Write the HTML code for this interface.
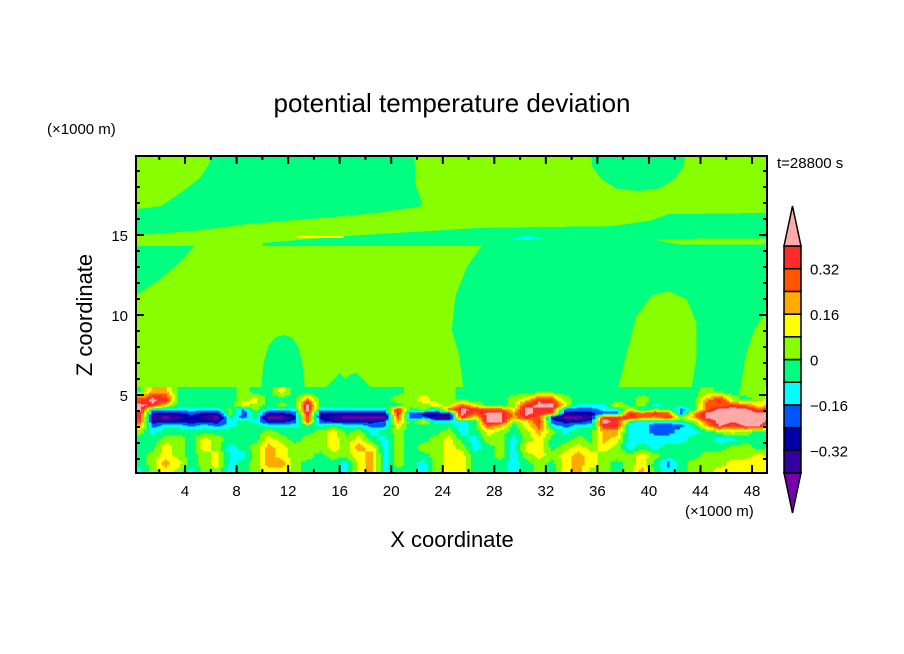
<!DOCTYPE html>
<html><head><meta charset="utf-8"><style>
html,body{margin:0;padding:0;background:#fff;}
svg{display:block;font-family:"Liberation Sans",sans-serif;}
</style></head><body>
<svg id="chart" width="904" height="654" viewBox="0 0 904 654" xmlns="http://www.w3.org/2000/svg">
<rect width="904" height="654" fill="#fff"/>
<defs><clipPath id="plotclip"><rect x="136" y="156" width="631" height="317"/></clipPath></defs>
<g id="field" clip-path="url(#plotclip)" shape-rendering="crispEdges"></g>
<g id="axes"></g>
<text x="452" y="112" font-size="26" text-anchor="middle">potential temperature deviation</text>
<text x="47" y="134" font-size="15">(×1000 m)</text>
<text x="685" y="516" font-size="15">(×1000 m)</text>
<text x="777" y="168" font-size="15">t=28800 s</text>
<text x="452" y="547" font-size="22" text-anchor="middle">X coordinate</text>
<text transform="translate(92,315) rotate(-90)" font-size="22" text-anchor="middle">Z coordinate</text>
<g id="colorbar"></g>
</svg>
<script>
// ---- data ----
const levels = [-0.4,-0.32,-0.24,-0.16,-0.08,0,0.08,0.16,0.24,0.32,0.4];
const colors = ["#7700aa","#3300a0","#0000aa","#0055ff","#00ffff","#00ff80","#88ff00","#ffff00","#ffaa00","#ff5500","#ff2a2a","#ffaaaa"];
const barLabels = ["0.32","0.16","0","\u22120.16","\u22120.32"];
const barLabelValues = [0.32,0.16,0,-0.16,-0.32];
const xTicks = [4,8,12,16,20,24,28,32,36,40,44,48];
const yTicks = [5,10,15];
// upper-level region polygons [x(km/1000), z(km/1000)] with field value
const regionValues = [0.04,-0.04,-0.04,-0.04,0.04,-0.04,-0.04,0.04,0.04,0.04,0.12,-0.12];
const regionShapes = [
 [[-1,-1],[51,-1],[51,21],[-1,21]],
 [[6.17,20.5],[21.77,20.5],[21.9,18.1],[22.4,17.0],[22.1,16.75],[19.1,16.4],[15.2,16.1],[9.0,15.7],[5.2,15.3],[2.1,15.1],[-1,14.9],[-1,16.5],[2.1,16.8],[3.6,17.6],[5.2,18.6],[5.9,19.5]],
 [[35.5,20.5],[35.6,19.3],[36.3,18.5],[37.5,17.9],[39.2,17.75],[40.8,17.9],[42.0,18.5],[42.7,19.3],[42.9,20.5]],
 [[-1,14.3],[10.05,14.3],[10.05,14.5],[16.8,14.95],[27.0,15.45],[37.1,15.55],[40.1,15.9],[41.5,16.3],[51,16.4],[51,-1],[-1,-1]],
 [[4.7,14.3],[27.0,14.3],[25.9,13.05],[25.0,11.2],[24.7,9.1],[25.3,7.4],[25.6,5.4],[-1,5.4],[-1,10.6],[2.1,12.25],[3.6,13.3]],
 [[9.9,5.4],[10.1,7.0],[10.5,8.1],[11.0,8.6],[11.6,8.75],[12.3,8.6],[12.8,8.0],[13.1,7.0],[13.3,5.4]],
 [[14.8,5.4],[15.6,6.0],[16.0,6.4],[16.4,6.0],[16.9,6.3],[17.3,6.4],[17.9,5.9],[18.5,5.4]],
 [[40.2,14.75],[51,14.8],[51,14.4],[42.4,14.4]],
 [[37.6,5.4],[38.2,7.4],[39.0,9.9],[40.2,11.2],[41.5,11.5],[42.9,11.0],[43.7,9.5],[43.7,7.4],[43.3,5.4]],
 [[51,10.4],[49.2,10.4],[48.2,9.1],[47.5,7.5],[47.1,5.4],[51,5.4]],
 [[12.7,14.8],[16.3,14.8],[16.3,14.95],[12.7,14.95]],
 [[29.3,14.75],[30.5,14.95],[31.9,14.8],[30.5,14.7]]
];
// lower-level grid: level codes (value = code*0.08+0.04), 1-km columns from x=0
const zEdges = [0,0.5,1,1.5,2,2.5,3,3.25,3.5,3.75,4,4.25,4.5,5,5.5];
const r0  = [-2,0,1,0,-2,0,0,-2,-1,0,1,1, 0,-1,-1,-1,-2,1,2,-2,-1,-1,-2,0,1, 1,-1,-1,-1,-2,-1,0,-1,1,2,0,0, -1,0,2,-1,-2,-1,0,0,1,1,1,1,1];
const r1  = [-1,0,2,1,-1,0,1,-2,-1,0,2,2, 0,-1,-1,-1,-2,1,2,-2,0,-1,-2,0,1, 1,-1,-1,-1,-2,-1,0,-1,1,2,1,0, -1,0,1,-1,-3,-1,0,0,0,1,1,1,1];
const r2  = [-1,0,1,0,-1,0,1,-2,-2,0,2,1, 0,0,-1,0,0,1,2,-2,0,-1,-1,0,1, 1,-1,-1,0,-2,0,1,0,1,2,1,0, 0,0,1,0,-1,-1,-1,0,0,0,0,1,0];
const r3  = [-1,-1,1,0,-1,1,0,-2,-1,0,2,1, 0,0,0,1,0,2,1,-2,0,-1,0,0,1, 0,-2,-1,0,-2,1,1,-1,0,1,0,1, 0,-2,-1,-2,-1,-1,-1,-1,-1,0,0,-1,-1];
const r4  = [-1,-1,0,0,-1,1,0,-1,-1,-1,1,0, -1,0,0,1,0,1,-1,-2,0,-1,-1,0,1, -1,-2,0,0,-2,0,1,-1,-1,0,-1,2, 1,-2,-2,-2,-2,-2,-1,-1,-2,-2,-1,-1,-1];
const r5  = [0,-2,-1,-1,-1,-1,-1,-1,-1,-1,0,-1, -1,-1,0,1,-1,0,-2,-1,0,-1,-1,-1,0, -2,-1,1,0,-1,0,2,0,-2,-1,-1,2, 2,-2,-2,-3,-3,-2,-2,-1,0,1,0,-1,-1];
const r6  = [2,-3,-2,-2,-3,-2,-3,-2,-1,-1,-2,-2, -2,-1,-2,-1,-2,-2,-3,-3,1,-1,-1,-1,-1, -2,-1,3,2,-1,1,3,-2,-3,-2,-2,4, 4,-2,-2,-3,-3,-3,-1,2,5,3,5,5,2];
const r7  = [3,-4,-4,-4,-4,-4,-4,-2,-1,-2,-4,-4, -3,3,-3,-4,-4,-4,-4,-3,2,-1,1,-2,-2, -2,-1,5,5,0,1,4,-3,-4,-4,-3,5, 4,-1,-2,-2,-2,-1,0,3,5,5,5,5,4];
const r8  = [4,-5,-6,-5,-4,-5,-6,-1,-3,-1,-6,-6, -4,3,-4,-5,-6,-6,-6,-6,3,-3,-3,-5,-5, 4,1,5,5,2,4,3,-4,-6,-6,-5,4, 4,4,3,2,4,0,2,5,5,5,5,5,5];
const r9  = [4,-4,-4,-4,-3,-4,-4,0,-3,-1,-4,-4, -3,4,-4,-4,-4,-4,-4,-4,4,-3,-4,-4,-4, 5,3,5,5,2,5,4,3,-4,-4,-4,-3, -3,4,3,4,3,-3,2,5,5,5,5,5,5];
const r10 = [5,-2,-2,-2,-2,-2,-2,0,-3,0,-2,-2, -2,5,-2,-2,-2,-2,-2,-2,4,-1,0,-2,3, 5,4,3,3,1,5,4,4,-3,-3,-3,-2, -2,1,-2,0,-1,-3,-1,3,5,5,5,3,4];
const r11 = [5,4,1,-1,-1,-1,-1,-1,1,0,-1,0, -1,5,-1,-1,-1,-1,-1,-1,-1,0,0,1,0, 3,1,-1,-1,0,4,5,5,1,-2,-2,-2, 1,-1,0,-2,-1,-1,-1,3,3,4,3,1,2];
const r12 = [3,5,4,-1,-1,-1,-1,-1,0,1,-1,-1, -1,2,-1,-1,-1,-1,-1,-1,0,0,1,0,0, -1,-1,-1,-1,0,1,4,3,0,-1,-1,-1, -1,-1,0,-1,-1,-1,-1,2,4,0,-1,0,1];
const r13 = [-1,2,2,-1,-1,-1,-1,-1,0,-1,-1,1, -1,-1,-1,-1,-1,-1,-1,-1,-1,0,0,0,0, -1,-1,-1,-1,-1,-1,-1,-1,-1,-1,-1,-1, -1,-1,-1,-1,-1,-1,-1,0,-1,-1,0,0,1];
const gridRows = [r0,r1,r2,r3,r4,r5,r6,r7,r8,r9,r10,r11,r12,r13];

// ---- axes ----
const NS = "http://www.w3.org/2000/svg";
const X0 = 133.5, XS = 12.886, Z0 = 475, ZS = 16;
const xs = v => X0 + v * XS;
const zs = v => Z0 - v * ZS;
function colorOf(v){ let k = 0; while (k < levels.length && v >= levels[k] - 1e-9) k++; return colors[k]; }
function mk(tag, attrs, parent){ const e = document.createElementNS(NS, tag); for (const a in attrs) e.setAttribute(a, attrs[a]); parent.appendChild(e); return e; }

const field = document.getElementById("field");
regionShapes.forEach((poly, i) => {
  const p = mk("polygon", {points: poly.map(q => xs(q[0]).toFixed(1) + "," + zs(q[1]).toFixed(1)).join(" "), fill: colorOf(regionValues[i])}, field);
  
  
});

// bilinear sampling of the grid (cell-centred values) for smoother contours
const nCols = gridRows[0].length, nRows = gridRows.length;
const zCent = zEdges.slice(0, -1).map((z, j) => (z + zEdges[j + 1]) / 2);
function val(j, i){ return gridRows[j][i] * 0.08 + 0.04; }
function sample(x, z){
  let fx = x - 0.5; fx = Math.max(0, Math.min(nCols - 1, fx));
  let i0 = Math.min(nCols - 2, Math.floor(fx)); const tx = fx - i0;
  let j0 = 0;
  if (z <= zCent[0]) { j0 = 0; } else if (z >= zCent[nRows - 1]) { j0 = nRows - 2; } else { while (j0 < nRows - 2 && zCent[j0 + 1] < z) j0++; }
  let tz = (z - zCent[j0]) / (zCent[j0 + 1] - zCent[j0]); tz = Math.max(0, Math.min(1, tz));
  const a = val(j0, i0) * (1 - tx) + val(j0, i0 + 1) * tx;
  const b = val(j0 + 1, i0) * (1 - tx) + val(j0 + 1, i0 + 1) * tx;
  return a * (1 - tz) + b * tz;
}
const SUBX = 5, SUBZ = 4;
for (let j = 0; j < nRows; j++) {
  for (let s = 0; s < SUBZ; s++) {
    const zb = zEdges[j] + (zEdges[j + 1] - zEdges[j]) * s / SUBZ;
    const zt = zEdges[j] + (zEdges[j + 1] - zEdges[j]) * (s + 1) / SUBZ;
    const zm = (zb + zt) / 2;
    let runStart = 0, runColor = null;
    const total = nCols * SUBX;
    for (let c = 0; c <= total; c++) {
      const col = c < total ? colorOf(sample((c + 0.5) / SUBX, zm)) : null;
      if (col !== runColor) {
        if (runColor !== null) {
          const x1 = xs(runStart / SUBX), x2 = xs(c / SUBX);
          const r = mk("rect", {x: x1.toFixed(2), y: zs(zt).toFixed(2), width: (x2 - x1 + 0.3).toFixed(2), height: (zs(zb) - zs(zt) + 0.3).toFixed(2), fill: runColor}, field);
          
          
        }
        runStart = c; runColor = col;
      }
    }
  }
}

const axes = document.getElementById("axes");


mk("rect", {x: 136, y: 156, width: 631, height: 317, fill: "none", stroke: "#000", "stroke-width": 2}, axes);
for (let v = 2; v <= 48; v += 2) {
  const L = (v % 4 === 0) ? 8 : 4;
  const x = xs(v);
  mk("line", {x1: x, y1: 473, x2: x, y2: 473 - L, stroke: "#000", "stroke-width": 2}, axes);
  mk("line", {x1: x, y1: 156, x2: x, y2: 156 + L, stroke: "#000", "stroke-width": 2}, axes);
}
for (let v = 1; v <= 19; v++) {
  const L = (v % 5 === 0) ? 8 : 4;
  const y = zs(v);
  mk("line", {x1: 136, y1: y, x2: 136 + L, y2: y, stroke: "#000", "stroke-width": 2}, axes);
  mk("line", {x1: 767, y1: y, x2: 767 - L, y2: y, stroke: "#000", "stroke-width": 2}, axes);
}
xTicks.forEach(v => {
  const t = mk("text", {x: xs(v), y: 496, "font-size": 15, "text-anchor": "middle"}, axes);
  t.textContent = v;
  
  
});
yTicks.forEach(v => {
  const t = mk("text", {x: 128, y: zs(v) + 6, "font-size": 15, "text-anchor": "end"}, axes);
  t.textContent = v;
  
  
});

// ---- colorbar ----
const cb = document.getElementById("colorbar");
const BX = 784, BW = 17, BT = 246, BH = 22.7;
const nb = levels.length - 1;
const cbY = v => BT + (levels[levels.length - 1] - v) / (levels[1] - levels[0]) * BH;
for (let k = 0; k < nb; k++) {
  const yTop = cbY(levels[k + 1]);
  const r = mk("rect", {x: BX, y: yTop, width: BW, height: BH, fill: colors[k + 1], stroke: "#000", "stroke-width": 1.5}, cb);
  
  
}
const topTri = mk("polygon", {points: `${BX},${BT} ${BX + BW / 2},206 ${BX + BW},${BT}`, fill: colors[colors.length - 1], stroke: "#000", "stroke-width": 1.5}, cb);


const yb = cbY(levels[0]);
const botTri = mk("polygon", {points: `${BX},${yb} ${BX + BW / 2},${yb + 40} ${BX + BW},${yb}`, fill: colors[0], stroke: "#000", "stroke-width": 1.5}, cb);


barLabels.forEach((s, i) => {
  const t = mk("text", {x: 810, y: cbY(barLabelValues[i]) + 6, "font-size": 15}, cb);
  t.textContent = s;
  
  
});
</script>
</body></html>
